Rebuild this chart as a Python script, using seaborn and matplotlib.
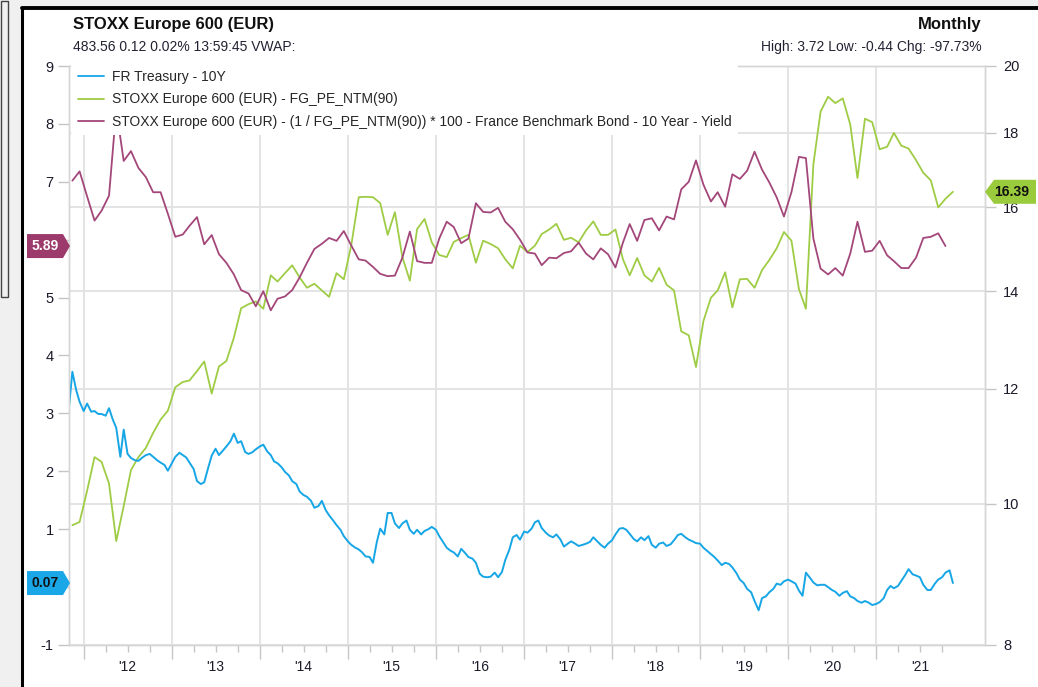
import pandas as pd
import matplotlib
matplotlib.use('Agg')
import matplotlib.pyplot as plt
import matplotlib.dates as mdates
from matplotlib.ticker import FuncFormatter, NullFormatter, NullLocator, FixedLocator
from matplotlib.transforms import IdentityTransform
from matplotlib.patches import Polygon, Rectangle
from matplotlib.lines import Line2D
import seaborn as sns

# ---- data ----
# FR Treasury 10Y, twice a month from 1 Nov 2011
fr_10y = [
    3.11, 3.72, 3.40, 3.20, 3.04, 3.17, 3.03, 3.04, 2.99, 2.99,
    2.96, 3.09, 2.89, 2.75, 2.25, 2.72, 2.30, 2.23, 2.19, 2.18,
    2.24, 2.28, 2.30, 2.25, 2.19, 2.15, 2.11, 2.01, 2.14, 2.25,
    2.32, 2.28, 2.24, 2.15, 2.04, 1.83, 1.78, 1.81, 2.07, 2.27,
    2.39, 2.28, 2.36, 2.43, 2.52, 2.65, 2.49, 2.52, 2.33, 2.30,
    2.33, 2.38, 2.43, 2.46, 2.34, 2.28, 2.17, 2.14, 2.07, 1.99,
    1.93, 1.83, 1.78, 1.65, 1.59, 1.56, 1.49, 1.37, 1.40, 1.49,
    1.33, 1.24, 1.15, 1.07, 0.99, 0.88, 0.79, 0.73, 0.68, 0.65,
    0.60, 0.53, 0.52, 0.42, 0.78, 1.01, 0.91, 1.28, 1.28, 1.10,
    1.02, 1.10, 1.15, 0.99, 0.92, 0.99, 0.91, 0.97, 1.00, 1.04,
    0.99, 0.88, 0.77, 0.68, 0.63, 0.60, 0.53, 0.66, 0.59, 0.52,
    0.49, 0.42, 0.23, 0.18, 0.17, 0.18, 0.25, 0.17, 0.26, 0.47,
    0.65, 0.86, 0.90, 0.82, 0.96, 0.94, 1.01, 1.12, 1.15, 1.02,
    0.94, 0.89, 0.86, 0.91, 0.82, 0.70, 0.75, 0.79, 0.75, 0.71,
    0.73, 0.75, 0.78, 0.86, 0.79, 0.73, 0.68, 0.75, 0.81, 0.91,
    1.01, 1.02, 0.99, 0.92, 0.83, 0.79, 0.86, 0.81, 0.88, 0.73,
    0.68, 0.75, 0.77, 0.71, 0.74, 0.81, 0.90, 0.92, 0.86, 0.82,
    0.79, 0.76, 0.75, 0.68, 0.62, 0.57, 0.52, 0.46, 0.38, 0.42,
    0.40, 0.34, 0.24, 0.13, 0.07, -0.03, -0.09, -0.24, -0.40, -0.19,
    -0.16, -0.09, -0.03, 0.06, 0.04, 0.10, 0.13, 0.10, 0.06, -0.06,
    -0.15, 0.25, 0.16, 0.08, 0.03, 0.04, 0.04, 0.00, -0.05, -0.08,
    -0.15, -0.10, -0.07, -0.16, -0.19, -0.24, -0.27, -0.24, -0.27, -0.31,
    -0.29, -0.26, -0.19, -0.05, 0.02, -0.02, 0.02, 0.11, 0.21, 0.31,
    0.22, 0.20, 0.17, 0.04, -0.05, -0.05, 0.06, 0.13, 0.17, 0.25,
    0.29, 0.07,
]

# STOXX Europe 600 forward P/E, monthly from Nov 2011
pe_ntm = [
    9.67, 9.72, 10.21, 10.77, 10.69, 10.33, 9.43, 9.97, 10.55, 10.77,
    10.93, 11.19, 11.43, 11.59, 12.03, 12.13, 12.16, 12.34, 12.53, 11.91,
    12.43, 12.54, 13.01, 13.63, 13.72, 13.78, 13.62, 14.36, 14.22, 14.41,
    14.59, 14.31, 14.08, 14.17, 14.02, 13.88, 14.41, 14.27, 15.06, 16.25,
    16.26, 16.25, 16.10, 15.31, 15.87, 14.78, 14.24, 15.45, 15.70, 15.13,
    14.83, 14.78, 15.14, 15.23, 15.31, 14.65, 15.17, 15.09, 14.99, 14.73,
    14.52, 15.05, 14.90, 15.05, 15.33, 15.44, 15.58, 15.19, 15.24, 15.13,
    15.42, 15.64, 15.31, 15.31, 15.44, 14.73, 14.36, 14.76, 14.36, 14.22,
    14.53, 14.15, 14.02, 13.14, 13.06, 12.42, 13.36, 13.86, 14.02, 14.43,
    13.65, 14.27, 14.28, 14.08, 14.48, 14.71, 14.99, 15.38, 15.17, 14.05,
    13.62, 17.12, 18.61, 19.05, 18.86, 19.00, 18.23, 16.75, 18.40, 18.30,
    17.53, 17.60, 17.99, 17.63, 17.55, 17.23, 16.89, 16.69, 15.99, 16.21,
    16.39,
]

# earnings yield minus French 10Y bond yield, monthly from Nov 2011
yield_gap = [
    7.02, 7.18, 6.75, 6.33, 6.50, 6.76, 8.25, 7.36, 7.53, 7.24,
    7.08, 6.82, 6.82, 6.45, 6.05, 6.09, 6.24, 6.39, 5.92, 6.08,
    5.75, 5.60, 5.40, 5.13, 5.07, 4.85, 5.11, 4.78, 4.98, 5.02,
    5.13, 5.35, 5.60, 5.84, 5.93, 6.03, 5.98, 6.15, 5.90, 5.66,
    5.64, 5.53, 5.41, 5.37, 5.38, 5.69, 6.14, 5.63, 5.60, 5.60,
    6.02, 6.31, 6.22, 5.94, 6.02, 6.63, 6.48, 6.47, 6.55, 6.31,
    6.18, 6.00, 5.78, 5.76, 5.56, 5.69, 5.68, 5.77, 5.80, 5.95,
    5.76, 5.66, 5.85, 5.75, 5.52, 5.95, 6.27, 5.98, 6.34, 6.37,
    6.16, 6.40, 6.35, 6.87, 7.00, 7.37, 6.95, 6.66, 6.82, 6.57,
    7.13, 7.05, 7.19, 7.52, 7.21, 6.99, 6.73, 6.40, 6.82, 7.43,
    7.41, 6.02, 5.50, 5.40, 5.51, 5.38, 5.76, 6.31, 5.79, 5.81,
    5.98, 5.73, 5.63, 5.51, 5.51, 5.69, 6.03, 6.05, 6.11, 5.89,
]

labels = ['FR Treasury - 10Y',
          'STOXX Europe 600 (EUR) - FG_PE_NTM(90)',
          'STOXX Europe 600 (EUR) - (1 / FG_PE_NTM(90)) * 100 - France Benchmark Bond - 10 Year - Yield']
left_ticks = list(range(-1, 10))
right_ticks = [8, 10, 12, 14, 16, 18, 20]
year_ticks = pd.date_range('2012-01-01', '2021-01-01', freq='YS')
quarter_ticks = [d for d in pd.date_range('2012-04-01', '2021-10-01', freq='QS') if d.month != 1]

BLUE, GREEN, PURPLE = '#16a6e6', '#9fcc45', '#a3477a'
GRID = '#e2e2e2'

bond = pd.DataFrame({'date': pd.date_range('2011-11-01', periods=len(fr_10y), freq='SMS'),
                     'value': fr_10y})
month_mid = pd.date_range('2011-11-01', periods=len(pe_ntm), freq='MS') + pd.Timedelta(days=14)
pe = pd.DataFrame({'date': month_mid, 'value': pe_ntm})
gap = pd.DataFrame({'date': month_mid[:len(yield_gap)], 'value': yield_gap})

sns.set_style('white')
plt.rcParams['font.family'] = ['Liberation Sans', 'DejaVu Sans']
plt.rcParams['axes.unicode_minus'] = False

W, H = 1038, 687
fig = plt.figure(figsize=(W / 100, H / 100), dpi=100)
fig.patch.set_facecolor('#f0f0f0')

# white panel with black left/top border, and the small box at the far left
fig.add_artist(Rectangle((22 / W, 0), 1 - 22 / W, 1 - 8 / H, transform=fig.transFigure,
                         facecolor='white', edgecolor='none', zorder=-5))
fig.add_artist(Line2D([22 / W, 22 / W], [0, 1 - 8 / H], transform=fig.transFigure,
                      color='black', lw=2.2, zorder=-4))
fig.add_artist(Line2D([22 / W, 1], [1 - 8 / H, 1 - 8 / H], transform=fig.transFigure,
                      color='black', lw=2.8, zorder=-4))
fig.add_artist(Rectangle((1 / W, 1 - 297 / H), 7 / W, 296 / H, transform=fig.transFigure,
                         facecolor='none', edgecolor='#444444', lw=1.0, zorder=-4))

ax = fig.add_axes([69 / W, 1 - 645 / H, (985 - 69) / W, (645 - 66) / H])
ax2 = ax.twinx()
ax.set_zorder(2)
ax2.set_zorder(1)
ax.patch.set_visible(False)
ax2.patch.set_visible(True)
ax2.patch.set_facecolor('white')

sns.lineplot(data=gap, x='date', y='value', ax=ax, color=PURPLE, lw=1.3, legend=False)
sns.lineplot(data=bond, x='date', y='value', ax=ax, color=BLUE, lw=1.4, legend=False)
sns.lineplot(data=pe, x='date', y='value', ax=ax2, color=GREEN, lw=1.3, legend=False)

ax.set_xlim(pd.Timestamp('2011-11-01'), pd.Timestamp('2022-03-28'))
ax.set_ylim(-1, 9)
ax.set_yticks(left_ticks)
for a in (ax, ax2):
    a.set_xlabel('')
    a.set_ylabel('')

ax2.set_yscale('log')
ax2.set_ylim(8, 20)
ax2.set_yticks(right_ticks)
ax2.yaxis.set_major_formatter(FuncFormatter(lambda v, p: f'{v:g}'))
ax2.yaxis.set_minor_locator(NullLocator())
ax2.yaxis.set_minor_formatter(NullFormatter())

# x ticks: years as major (unlabelled), quarters as minor, label the July tick
ax.xaxis.set_major_locator(FixedLocator(mdates.date2num(year_ticks)))
ax.xaxis.set_major_formatter(NullFormatter())
ax.xaxis.set_minor_locator(FixedLocator(mdates.date2num(quarter_ticks)))
ax.xaxis.set_minor_formatter(FuncFormatter(
    lambda v, p: mdates.num2date(v).strftime("'%y") if mdates.num2date(v).month == 7 else ''))

# gridlines live on the back axis so every line sits above them
ax2.xaxis.set_visible(True)
ax2.tick_params(axis='x', which='both', length=0, labelbottom=False, labeltop=False)
ax2.grid(axis='x', which='major', color=GRID, lw=1.3)
ax2.grid(axis='y', which='major', color=GRID, lw=1.3)
ax.grid(False)

tick_col = '#c6c6c6'
ax.tick_params(axis='x', which='major', length=10, width=1, color=tick_col, direction='out', bottom=True)
ax.tick_params(axis='x', which='minor', length=5, width=1, color=tick_col, direction='out',
               bottom=True, labelsize=10, pad=6, labelcolor='#1a1a2a')
ax.tick_params(axis='y', length=8, width=1, color=tick_col, direction='out', left=True,
               labelsize=10.5, pad=3, labelcolor='#1a1a2a')
ax2.tick_params(axis='y', length=8, width=1, color=tick_col, direction='out', right=True,
                labelsize=10.5, pad=5, labelcolor='#1a1a2a')
for a in (ax, ax2):
    for s in a.spines.values():
        s.set_color('#d6d6d6')
        s.set_linewidth(1.0)

handles = [Line2D([], [], color=c, lw=1.3) for c in (BLUE, GREEN, PURPLE)]
leg = ax.legend(handles, labels, loc='upper left', bbox_to_anchor=(0.001, 1.006), fontsize=10,
                frameon=True, facecolor='white', edgecolor='none', framealpha=1,
                handlelength=1.9, handletextpad=0.6, labelspacing=0.6,
                borderpad=0.45, borderaxespad=0.1)
leg.set_zorder(10)

# header texts
fig.text(73 / W, 1 - 25 / H, 'STOXX Europe 600 (EUR)', fontsize=12, fontweight='bold',
         va='center', color='#111111')
fig.text(73 / W, 1 - 47 / H, '483.56 0.12 0.02% 13:59:45 VWAP:', fontsize=10,
         va='center', color='#222233')
fig.text(981 / W, 1 - 25 / H, 'Monthly', fontsize=12, fontweight='bold', ha='right',
         va='center', color='#111111')
fig.text(982 / W, 1 - 47 / H, 'High: 3.72 Low: -0.44 Chg: -97.73%', fontsize=10,
         ha='right', va='center', color='#222233')


# last-value tags
def tag(axis, value, color, txtcolor, side):
    y = axis.transData.transform((0, value))[1]
    h = 12
    if side == 'left':
        xs = [27, 63, 70, 63, 27]
        ys = [y - h, y - h, y, y + h, y + h]
        tx = 45
    else:
        xs = [985, 994, 1036, 1036, 994]
        ys = [y, y - h, y - h, y + h, y + h]
        tx = 1012
    fig.add_artist(Polygon(list(zip(xs, ys)), closed=True, transform=IdentityTransform(),
                           facecolor=color, edgecolor='none', zorder=20))
    fig.text(tx, y, f'{value:.2f}', transform=IdentityTransform(), ha='center', va='center',
             fontsize=10, fontweight='bold', color=txtcolor, zorder=21)


tag(ax, yield_gap[-1], '#9c3b6b', 'white', 'left')
tag(ax, fr_10y[-1], '#1aa7e8', '#111111', 'left')
tag(ax2, pe_ntm[-1], '#9acb3c', '#111111', 'right')

fig.savefig('out.png', dpi=100, facecolor=fig.get_facecolor())
